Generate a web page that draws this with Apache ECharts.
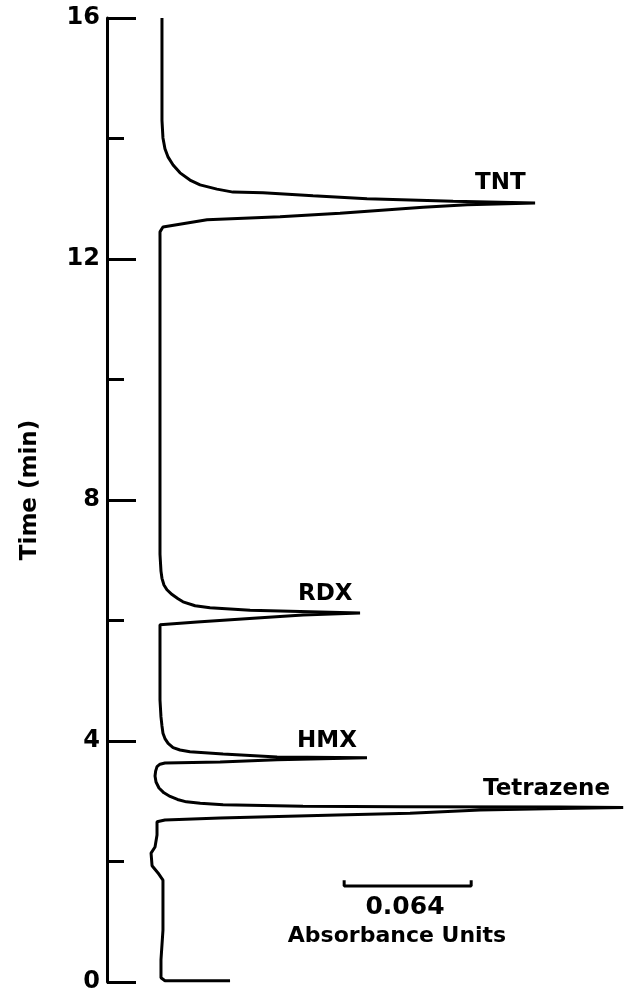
<!DOCTYPE html>
<html>
<head>
<meta charset="utf-8">
<script src="https://cdn.jsdelivr.net/npm/echarts@6/dist/echarts.min.js"></script>
<style>
html,body{margin:0;padding:0;background:#fff;}
#chart{width:626px;height:998px;}
</style>
</head>
<body>
<div id="chart"></div>
<script>
// Chromatogram trace: [absorbance (AU), time (min)] in recording order
var trace = [
  [0.0620, 0.02], [0.0292, 0.02], [0.0272, 0.07], [0.0272, 0.37], [0.0282, 0.86],
  [0.0282, 1.69], [0.0257, 1.81], [0.0227, 1.93], [0.0222, 2.14], [0.0242, 2.24],
  [0.0252, 2.44], [0.0252, 2.66],
  // Tetrazene
  [0.0292, 2.69], [0.0570, 2.72], [0.1159, 2.77], [0.1527, 2.80], [0.1880, 2.855],
  [0.2283, 2.88], [0.2601, 2.895],
  [0.2283, 2.905], [0.1477, 2.91], [0.0988, 2.915], [0.0585, 2.94], [0.0470, 2.965],
  [0.0400, 2.99], [0.0355, 3.03], [0.0318, 3.08], [0.0287, 3.14], [0.0262, 3.22],
  [0.0247, 3.32], [0.0242, 3.42], [0.0245, 3.50], [0.0252, 3.575], [0.0267, 3.615],
  [0.0292, 3.635],
  // HMX
  [0.0570, 3.65], [0.0857, 3.69], [0.1310, 3.72],
  [0.0857, 3.735], [0.0585, 3.785], [0.0418, 3.82], [0.0368, 3.85], [0.0333, 3.89],
  [0.0308, 3.96], [0.0292, 4.04], [0.0282, 4.13], [0.0277, 4.25], [0.0272, 4.40],
  [0.0267, 4.68], [0.0267, 5.93],
  // RDX
  [0.0277, 5.96], [0.0454, 5.975], [0.0756, 6.04], [0.0988, 6.09], [0.1275, 6.125],
  [0.0973, 6.15], [0.0721, 6.17], [0.0519, 6.21], [0.0444, 6.245], [0.0383, 6.31],
  [0.0358, 6.36], [0.0328, 6.43], [0.0302, 6.51], [0.0287, 6.59], [0.0277, 6.70],
  [0.0272, 6.82], [0.0267, 7.10], [0.0267, 12.45],
  // TNT
  [0.0282, 12.53], [0.0504, 12.65], [0.0872, 12.70], [0.1174, 12.76], [0.1593, 12.86],
  [0.1815, 12.90], [0.2157, 12.93],
  [0.1744, 12.96], [0.1310, 13.00], [0.1038, 13.05], [0.0786, 13.10], [0.0635, 13.11],
  [0.0554, 13.16], [0.0469, 13.23], [0.0418, 13.31], [0.0368, 13.43], [0.0333, 13.56],
  [0.0308, 13.69], [0.0292, 13.83], [0.0282, 14.01], [0.0277, 14.30], [0.0277, 16.0]
];
// Scale bar: 0.064 absorbance units
var scaleBar = [[0.1195, 1.69], [0.1195, 1.593], [0.1835, 1.593], [0.1835, 1.69]];
var scaleLabel = '0.064';
var scaleUnit = 'Absorbance Units';
var peakNames = ['Tetrazene', 'HMX', 'RDX', 'TNT'];
var yTicks = { min: 0, max: 16, interval: 4 };
var yTitle = 'Time (min)';

var FONT = '"DejaVu Sans", "Liberation Sans", sans-serif';
var chart = echarts.init(document.getElementById('chart'), null, { renderer: 'canvas' });

function txt(t, x, y, align, size, rot) {
  return {
    type: 'text', silent: true, x: x, y: y, rotation: rot || 0,
    style: {
      text: t, x: 0, y: 0, fill: '#000',
      font: 'bold ' + (size || 23) + 'px ' + FONT,
      textAlign: align || 'left', textVerticalAlign: 'middle', verticalAlign: 'middle'
    }
  };
}

chart.setOption({
  animation: false,
  backgroundColor: '#fff',
  grid: { left: 107, right: 3, top: 18, bottom: 16, containLabel: false },
  xAxis: {
    type: 'value', min: 0, max: 0.26, show: false
  },
  yAxis: {
    type: 'value', min: yTicks.min, max: yTicks.max, interval: yTicks.interval,
    axisLine: { show: true, lineStyle: { color: '#000', width: 3 } },
    axisTick: { show: true, inside: true, length: 29, lineStyle: { color: '#000', width: 3 } },
    minorTick: { show: true, splitNumber: 2, length: 17, lineStyle: { color: '#000', width: 3 } },
    splitLine: { show: false },
    minorSplitLine: { show: false },
    axisLabel: { color: '#000', fontSize: 24, fontWeight: 'bold', fontFamily: FONT, margin: 7 }
  },
  series: [
    {
      type: 'line', data: trace, showSymbol: false, symbol: 'none', smooth: false,
      lineStyle: { color: '#000', width: 3 }, silent: true, z: 3
    },
    {
      type: 'line', data: scaleBar, showSymbol: false, symbol: 'none',
      lineStyle: { color: '#000', width: 3 }, silent: true
    }
  ],
  graphic: [
    txt(yTitle, 30, 490, 'center', 23, Math.PI / 2),
    txt(peakNames[3], 475, 183, 'left', 23),
    txt(peakNames[2], 298, 594, 'left', 23),
    txt(peakNames[1], 297, 741, 'left', 23),
    txt(peakNames[0], 483, 789, 'left', 23),
    txt(scaleLabel, 405, 907, 'center', 25),
    txt(scaleUnit, 397, 936, 'center', 22)
  ]
});
</script>
</body>
</html>
